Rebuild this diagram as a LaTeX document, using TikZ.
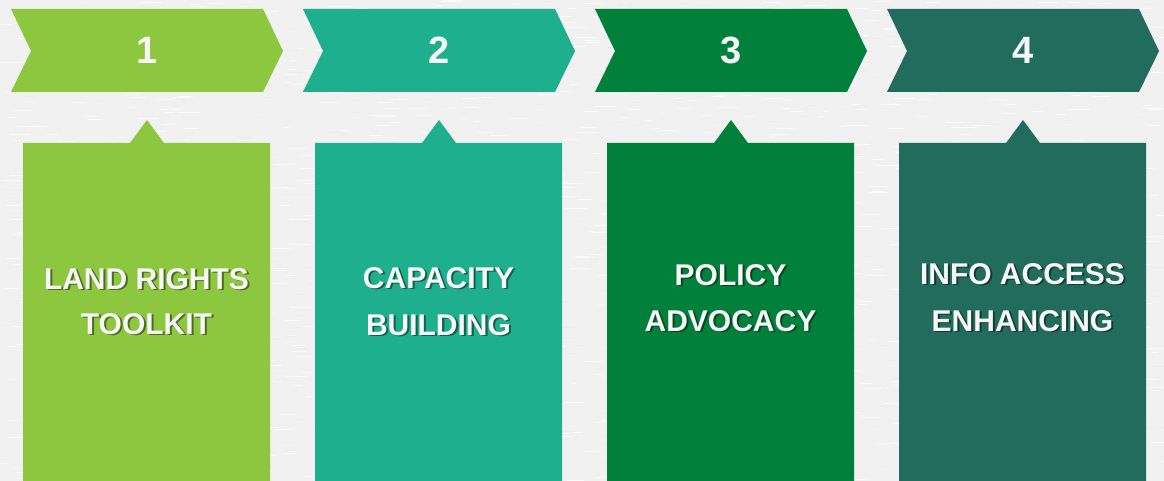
\documentclass[tikz,border=0pt]{standalone}
\usepackage{fontspec}
\setmainfont{Liberation Sans}
\definecolor{bgc}{HTML}{F1F1F1}
\definecolor{cA}{HTML}{8DC63F}
\definecolor{cB}{HTML}{1EAF8F}
\definecolor{cC}{HTML}{00803A}
\definecolor{cD}{HTML}{226C5E}
\definecolor{txt}{HTML}{F7F7F7}
\tikzset{
  numtxt/.style={text=txt, font=\fontsize{38}{40}\selectfont\bfseries, inner sep=0pt, anchor=base},
  lbl/.style={text=txt, font=\fontsize{30}{34}\selectfont\bfseries, inner sep=0pt, anchor=base},
  lblsh/.style={text=black, opacity=0.45, font=\fontsize{30}{34}\selectfont\bfseries, inner sep=0pt, anchor=base},
}
\begin{document}
\begin{tikzpicture}[x=1pt,y=-1pt]
\useasboundingbox (0,0) rectangle (1164,481);
\fill[bgc] (0,0) rectangle (1164,481);
% paper texture
\pgfmathsetseed{7}
\foreach \k in {1,...,1200}{
  \pgfmathsetmacro{\xx}{rnd*1164}
  \pgfmathsetmacro{\yy}{rnd*481}
  \pgfmathsetmacro{\ll}{5+rnd*18}
  \draw[white, line width=0.6pt, opacity=0.7] (\xx,\yy) -- ++(\ll,0);
}
\foreach \k in {1,...,700}{
  \pgfmathsetmacro{\xx}{rnd*1164}
  \pgfmathsetmacro{\yy}{rnd*481}
  \pgfmathsetmacro{\ll}{4+rnd*14}
  \draw[black!8, line width=0.5pt, opacity=0.5] (\xx,\yy) -- ++(\ll,0);
}
% columns
\foreach \i/\c/\n/\la/\lb/\ya/\yb in {0/cA/1/LAND RIGHTS/TOOLKIT/289/334, 1/cB/2/CAPACITY/BUILDING/288/335, 2/cC/3/POLICY/ADVOCACY/285/331, 3/cD/4/INFO ACCESS/ENHANCING/284/331}{
  \pgfmathsetmacro{\dx}{292*\i}
  \begin{scope}[xshift=\dx pt]
    \fill[\c] (11,9) -- (263,9) -- (283,51) -- (263,92) -- (11,92) -- (31,51) -- cycle;
    \fill[\c] (23,143) -- (130,143) -- (147,120) -- (164,143) -- (270,143) -- (270,481) -- (23,481) -- cycle;
    \node[numtxt] (num\n) at (147,64) {\n};
    \node[lblsh] (sha\n) at (148.5,\ya+1.8) {\la};
    \node[lbl] (lba\n) at (146.5,\ya) {\la};
    \node[lblsh] (shb\n) at (148.5,\yb+1.8) {\lb};
    \node[lbl] (lbb\n) at (146.5,\yb) {\lb};
  \end{scope}
}
\end{tikzpicture}
\end{document}
